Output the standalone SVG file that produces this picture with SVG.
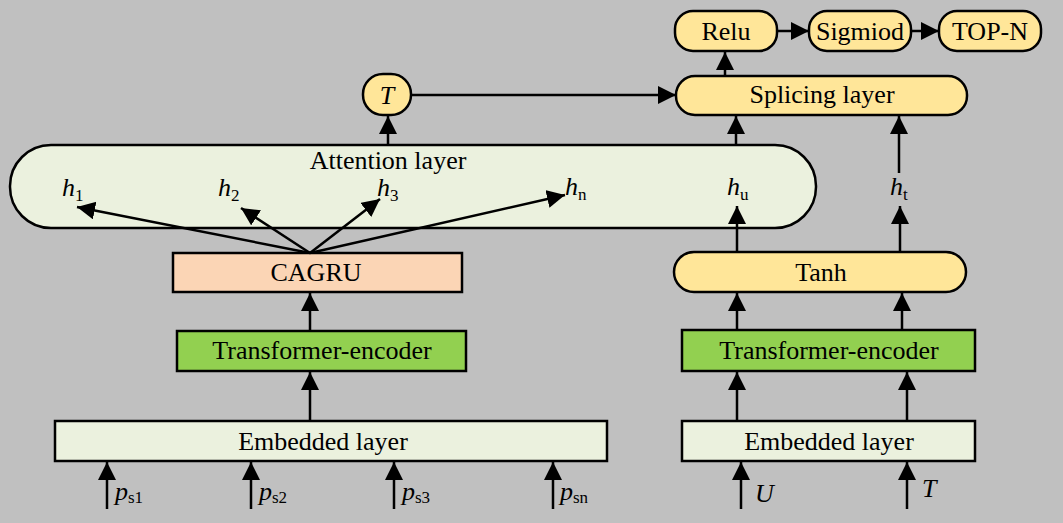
<svg xmlns="http://www.w3.org/2000/svg" width="1063" height="523" viewBox="0 0 1063 523">
<defs>
<marker id="ah" markerUnits="userSpaceOnUse" markerWidth="20" markerHeight="20" refX="18" refY="9" orient="auto">
<path d="M0,0 L18,9 L0,18 z" fill="#000"/>
</marker>
<style>
.bx{stroke:#000;stroke-width:2.5}
.yel{fill:#FFE699}
.lg{fill:#EBF1DE}
.gr{fill:#92D050}
.pe{fill:#FBD5B5}
.t{font-family:"Liberation Serif","Times New Roman",serif;font-size:26px;fill:#000;text-anchor:middle}
.m{font-family:"Liberation Serif","Times New Roman",serif;fill:#000}
.i{font-style:italic;font-size:26px}
.s{font-size:17px}
.c{stroke:#000;stroke-width:2.5;fill:none;marker-end:url(#ah)}
</style>
</defs>
<rect x="0" y="0" width="1063" height="523" fill="#C0C0C0"/>

<g id="relu"><rect class="bx yel" x="675" y="11" width="102" height="40" rx="18"/><text class="t" x="726" y="40">Relu</text></g>
<g id="sigmiod"><rect class="bx yel" x="809" y="11" width="102" height="40" rx="18"/><text class="t" x="860" y="40">Sigmiod</text></g>
<g id="topn"><rect class="bx yel" x="939" y="11" width="102" height="40" rx="18"/><text class="t" x="990" y="40">TOP-N</text></g>
<g id="splicing"><rect class="bx yel" x="676" y="76" width="291" height="39" rx="19"/><text class="t" x="822" y="103">Splicing layer</text></g>
<g id="tnode"><rect class="bx yel" x="363" y="74" width="48" height="41" rx="20"/><text class="m i" x="387" y="104" text-anchor="middle">T</text></g>

<g id="attention">
<rect class="bx lg" x="10" y="145" width="806" height="83" rx="41"/>
<text class="t" x="388" y="169">Attention layer</text>
<text class="m" x="62" y="196"><tspan class="i">h</tspan><tspan class="s" dy="5">1</tspan></text>
<text class="m" x="218" y="196"><tspan class="i">h</tspan><tspan class="s" dy="5">2</tspan></text>
<text class="m" x="377" y="196"><tspan class="i">h</tspan><tspan class="s" dy="5">3</tspan></text>
<text class="m" x="565" y="195"><tspan class="i">h</tspan><tspan class="s" dy="5">n</tspan></text>
<text class="m" x="727" y="195"><tspan class="i">h</tspan><tspan class="s" dy="5">u</tspan></text>
</g>
<g id="ht"><text class="m" x="890" y="195"><tspan class="i">h</tspan><tspan class="s" dy="5">t</tspan></text></g>

<g id="cagru"><rect class="bx pe" x="173" y="253" width="289" height="39"/><text class="t" x="316" y="281">CAGRU</text></g>
<g id="tanh"><rect class="bx yel" x="674" y="252" width="292" height="40" rx="20"/><text class="t" x="821" y="281">Tanh</text></g>
<g id="te-left"><rect class="bx gr" x="177" y="331" width="289" height="40"/><text class="t" x="322" y="359">Transformer-encoder</text></g>
<g id="te-right"><rect class="bx gr" x="682" y="330" width="293" height="41"/><text class="t" x="829" y="359">Transformer-encoder</text></g>
<g id="emb-left"><rect class="bx lg" x="55" y="421" width="552" height="40"/><text class="t" x="323" y="450">Embedded layer</text></g>
<g id="emb-right"><rect class="bx lg" x="682" y="421" width="293" height="40"/><text class="t" x="829" y="450">Embedded layer</text></g>

<g id="inputs">
<text class="m" x="115" y="500"><tspan class="i" font-size="28">p</tspan><tspan class="s" dy="3">s1</tspan></text>
<text class="m" x="259" y="500"><tspan class="i" font-size="28">p</tspan><tspan class="s" dy="3">s2</tspan></text>
<text class="m" x="402" y="500"><tspan class="i" font-size="28">p</tspan><tspan class="s" dy="3">s3</tspan></text>
<text class="m" x="560" y="500"><tspan class="i" font-size="28">p</tspan><tspan class="s" dy="3">sn</tspan></text>
<text class="m i" x="755" y="502">U</text>
<text class="m i" x="922" y="497">T</text>
</g>

<g id="connectors">
<line class="c" x1="777" y1="31" x2="809" y2="31"/>
<line class="c" x1="911" y1="31" x2="939" y2="31"/>
<line class="c" x1="725" y1="76" x2="725" y2="52"/>
<line class="c" x1="411" y1="95" x2="676" y2="95"/>
<line class="c" x1="388" y1="145" x2="388" y2="116"/>
<line class="c" x1="736" y1="145" x2="736" y2="116"/>
<line class="c" x1="899" y1="173" x2="899" y2="116"/>
<line class="c" x1="310" y1="253" x2="77" y2="207"/>
<line class="c" x1="310" y1="253" x2="241" y2="208"/>
<line class="c" x1="310" y1="253" x2="380" y2="199"/>
<line class="c" x1="310" y1="253" x2="565" y2="195"/>
<line class="c" x1="737" y1="252" x2="737" y2="206"/>
<line class="c" x1="900" y1="252" x2="900" y2="206"/>
<line class="c" x1="310" y1="331" x2="310" y2="293"/>
<line class="c" x1="310" y1="421" x2="310" y2="372"/>
<line class="c" x1="737" y1="330" x2="737" y2="293"/>
<line class="c" x1="902" y1="330" x2="902" y2="293"/>
<line class="c" x1="737" y1="421" x2="737" y2="372"/>
<line class="c" x1="907" y1="421" x2="907" y2="372"/>
<line class="c" x1="107" y1="509" x2="107" y2="462"/>
<line class="c" x1="251" y1="509" x2="251" y2="462"/>
<line class="c" x1="394" y1="509" x2="394" y2="462"/>
<line class="c" x1="553" y1="509" x2="553" y2="462"/>
<line class="c" x1="741" y1="509" x2="741" y2="462"/>
<line class="c" x1="907" y1="509" x2="907" y2="462"/>
</g>
</svg>
